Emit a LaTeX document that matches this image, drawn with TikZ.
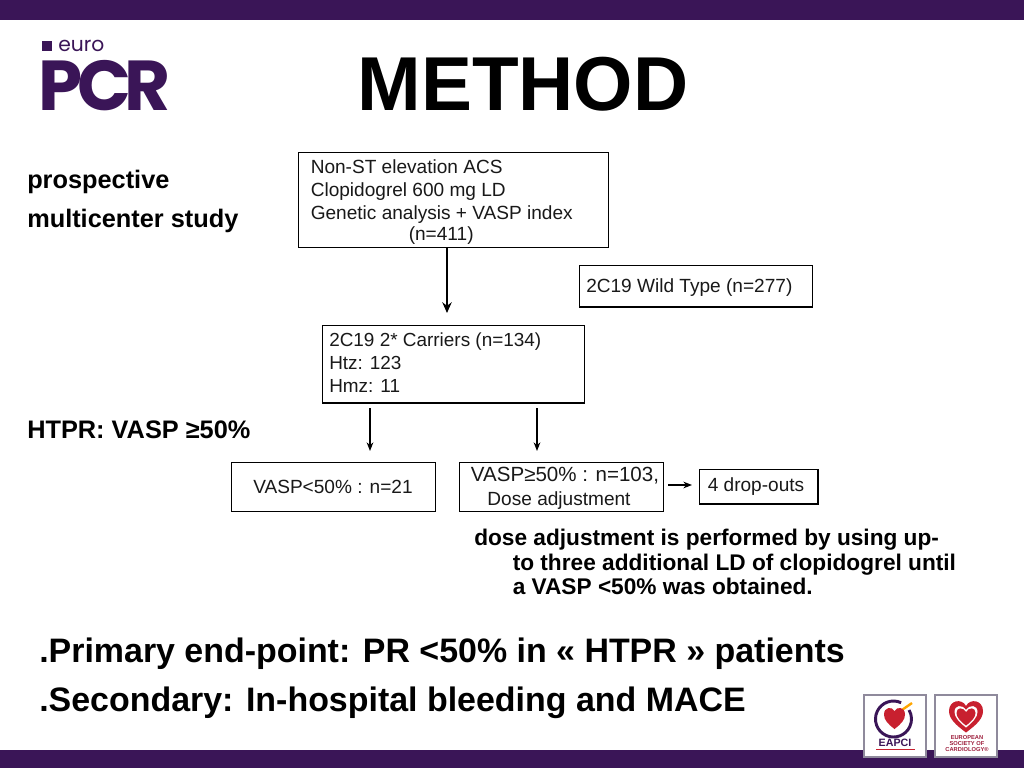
\documentclass[tikz,border=0pt]{standalone}
\usepackage{fontspec}
\setmainfont{Liberation Sans}
\newfontfamily\logofont{Poppins}
\definecolor{barpurple}{HTML}{3A1557}
\definecolor{heartred}{HTML}{C8202F}
\definecolor{cardgrey}{HTML}{8F8A9C}
\newcommand{\fs}[1]{\fontsize{#1}{#1}\selectfont}
\usetikzlibrary{arrows.meta}
\tikzset{
  x=0.75pt,y=-0.75pt,
  flowbox/.style={draw=black,line width=0.9pt,inner sep=0pt,anchor=north west},
  boxtext/.style={font=\fs{14.3},anchor=base west,inner sep=0pt,text=black!90},
  sidelabel/.style={font=\bfseries\fs{19},anchor=base west,inner sep=0pt},
  bigline/.style={font=\bfseries\fs{25.45},anchor=base west,inner sep=0pt},
  noteline/.style={font=\bfseries\fs{17},anchor=base west,inner sep=0pt},
  flow/.style={-{Stealth[length=6.5pt,width=5pt]},line width=0.9pt},
  bigflow/.style={-{Stealth[length=8pt,width=7pt]},line width=1.4pt},
  card/.style={draw=cardgrey,line width=1.1pt,fill=white},
}
\begin{document}
\begin{tikzpicture}
\useasboundingbox (0,0) rectangle (1024,768);
\fill[white] (0,0) rectangle (1024,768);
\fill[barpurple] (0,0) rectangle (1024,20);
\fill[barpurple] (0,750) rectangle (1024,768);
% logo
\fill[barpurple] (42,41) rectangle (52,51);
\node[anchor=base west,inner sep=0pt,text=barpurple,font=\logofont\fs{15.2}] (euro) at (58,51) {euro};
\node[anchor=base west,inner sep=0pt,text=barpurple,font=\logofont\bfseries\fs{53}] (pcr) at (38,110.5) {P\kern-4pt C\kern-5pt R};
% title
\node[anchor=base,inner sep=0pt,font=\bfseries\fs{57.3}] (title) at (523,110) {METHOD};
% side labels
\node[sidelabel] (l1) at (27,188) {prospective};
\node[sidelabel] (l2) at (27,227) {multicenter study};
\node[sidelabel] (l3) at (27,438) {HTPR: VASP ≥50\%};
% boxes
\node[flowbox,minimum width=233pt,minimum height=71.25pt] (b1) at (297.5,151.5) {};
\node[boxtext] (t1a) at (310.5,173) {Non-ST elevation ACS};
\node[boxtext] (t1b) at (310.5,196) {Clopidogrel 600 mg LD};
\node[boxtext] (t1c) at (310.5,219) {Genetic analysis + VASP index};
\node[boxtext] (t1d) at (408.5,240) {(n=411)};
\node[flowbox,minimum width=175pt,minimum height=31pt] (b2) at (578.5,265) {};
\node[boxtext] (t2) at (586,292) {2C19 Wild Type (n=277)};
\node[flowbox,minimum width=197pt,minimum height=58pt] (b3) at (321.5,325) {};
\node[boxtext,font=\fs{14.2}] (t3a) at (329,346) {2C19 2* Carriers (n=134)};
\node[boxtext,font=\fs{14.2}] (t3b) at (329,369) {Htz: 123};
\node[boxtext,font=\fs{14.2}] (t3c) at (329,392) {Hmz: 11};
\node[flowbox,minimum width=153pt,minimum height=36.5pt] (b4) at (231,462) {};
\node[boxtext] (t4) at (253,493) {VASP<50\% : n=21};
\node[flowbox,minimum width=153pt,minimum height=36.5pt] (b5) at (459,462) {};
\node[boxtext,anchor=base,font=\fs{15.4}] (t5a) at (565,481) {VASP≥50\% : n=103,};
\node[boxtext,anchor=base] (t5b) at (559,505) {Dose adjustment};
\node[flowbox,line width=1.3pt,minimum width=89pt,minimum height=26pt] (b6) at (698.5,468.5) {};
\node[boxtext,anchor=base] (t6) at (756,491) {4 drop-outs};
% connectors
\coordinate (a1e) at (447,313);
\draw[bigflow] (b1.south -| a1e) -- (a1e);
\coordinate (a2s) at (370,408); \coordinate (a2e) at (370,451);
\draw[flow] (a2s) -- (a2e);
\coordinate (a3s) at (537,408); \coordinate (a3e) at (537,451);
\draw[flow] (a3s) -- (a3e);
\coordinate (a4s) at (668,485); \coordinate (a4e) at (692,485);
\draw[flow] (a4s) -- (a4e);
% note
\node[noteline] (n1) at (474,545.5) {dose adjustment is performed by using up-};
\node[noteline] (n2) at (512.5,570.5) {to three additional LD of clopidogrel until};
\node[noteline] (n3) at (512.5,594.5) {a VASP <50\% was obtained.};
% bottom
\node[bigline] (p1) at (39,662) {.Primary end-point: PR <50\% in « HTPR » patients};
\node[bigline] (p2) at (39,711) {.Secondary: In-hospital bleeding and MACE};
% EAPCI card
\draw[card] (864,695) rectangle (926,757);
\draw[barpurple,line width=2.2pt] (901.1,702.7) arc (-65:-390:18);
\draw[orange!70!yellow,line width=1.8pt] (899,712) -- (912,703);
\fill[heartred] (894.5,729) .. controls (888,724) and (884,720) .. (884,714.5) .. controls (884,707) and (892,706) .. (894.5,711) .. controls (897,706) and (905,707) .. (905,714.5) .. controls (905,720) and (901,724) .. (894.5,729) -- cycle;
\node[inner sep=0pt,font=\bfseries\fs{8},text=barpurple] (eapci) at (895,743) {EAPCI};
\draw[heartred,line width=0.5pt] (876,749) -- (915,749);
% ESC card
\draw[card] (935,695) rectangle (997,757);
\fill[heartred] (966,732.5) .. controls (956,725) and (949,719) .. (949,711) .. controls (949,700) and (962,698) .. (966,706) .. controls (970,698) and (983,700) .. (983,711) .. controls (983,719) and (976,725) .. (966,732.5) -- cycle;
\fill[white] (966,727.5) .. controls (959,722) and (954.5,717) .. (954.5,712) .. controls (954.5,705) and (962,704) .. (966,710) .. controls (970,704) and (977.5,705) .. (977.5,712) .. controls (977.5,717) and (973,722) .. (966,727.5) -- cycle;
\fill[heartred] (966,725.5) .. controls (960,721) and (956.5,717) .. (956.5,713) .. controls (956.5,707) and (963,707) .. (966,712) .. controls (969,707) and (975.5,707) .. (975.5,713) .. controls (975.5,717) and (972,721) .. (966,725.5) -- cycle;
\node[inner sep=0pt,align=center,font=\bfseries\fs{4.3},text=heartred!70!barpurple] (esc) at (967,743.5) {EUROPEAN\\[0.3pt]SOCIETY OF\\[0.3pt]CARDIOLOGY®};
\end{tikzpicture}
\end{document}
